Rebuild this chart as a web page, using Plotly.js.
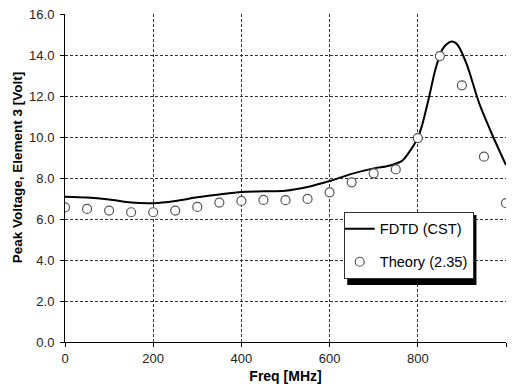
<!DOCTYPE html>
<html>
<head>
<meta charset="utf-8">
<script src="https://cdn.plot.ly/plotly-3.0.1.min.js"></script>
<style>html,body{margin:0;padding:0;background:#fff;}#chart{width:519px;height:390px;}</style>
</head>
<body>
<div id="chart"></div>
<script>
const fdtdFreq = [0,50,100,150,200,250,300,350,400,450,500,550,600,650,700,735,765,780,800,810,825,840,855,870,880,890,910,940,970,1000];
const fdtdVolt = [7.09,7.05,6.95,6.8,6.77,6.88,7.06,7.2,7.32,7.35,7.38,7.56,7.85,8.2,8.47,8.6,8.85,9.25,9.96,10.6,11.9,13.3,14.25,14.6,14.65,14.5,13.6,11.6,10.05,8.63];
const theoryFreq = [0,50,100,150,200,250,300,350,400,450,500,550,600,650,700,750,800,850,900,950,1000];
const theoryVolt = [6.57,6.49,6.41,6.33,6.33,6.41,6.59,6.8,6.88,6.93,6.92,6.98,7.3,7.79,8.23,8.42,9.95,13.95,12.52,9.04,6.77];
const yTicks = [0,2,4,6,8,10,12,14,16];
const xTicks = [0,200,400,600,800,1000];

const traces = [
  {x: fdtdFreq, y: fdtdVolt, type:'scatter', mode:'lines', name:'FDTD (CST)',
   line:{color:'#000', width:2, shape:'spline', smoothing:0.8}, legendgroup:'a'},
  {x: theoryFreq, y: theoryVolt, type:'scatter', mode:'markers', name:'Theory (2.35)',
   marker:{symbol:'circle', size:9, color:'#fff', line:{color:'#555', width:1.2}}, legendgroup:'b'}
];

const gridStyle = {showgrid:true, gridcolor:'#333', griddash:'3px,2px', gridwidth:1};
const layout = {
  width:519, height:390,
  margin:{l:65, r:13, t:14, b:48},
  paper_bgcolor:'#fff', plot_bgcolor:'#fff',
  font:{family:'Arial, Liberation Sans, sans-serif', color:'#000', size:12},
  showlegend:true,
  legend:{x:0.632, y:0.397, xanchor:'left', yanchor:'top', bgcolor:'#fff',
    bordercolor:'#333', borderwidth:1, font:{size:14.6, color:'#000'}, tracegroupgap:11,
    itemwidth:30, indentation:-5},
  xaxis:Object.assign({range:[0,1000], tickvals:xTicks, ticktext:xTicks.map(String),
    showline:true, linecolor:'#000', linewidth:1, ticks:'outside', ticklen:4, tickcolor:'#000',
    zeroline:false, tickfont:{size:13, color:'#222'},
    title:{text:'<b>Freq [MHz]</b>', font:{size:14}, standoff:6}}, gridStyle),
  yaxis:Object.assign({range:[0,16], tickvals:yTicks, ticktext:yTicks.map(v=>v.toFixed(1)),
    showline:true, linecolor:'#000', linewidth:1, ticks:'outside', ticklen:4, tickcolor:'#000',
    zeroline:false, tickfont:{size:13, color:'#222'}, ticklabelstandoff:3}, gridStyle),
  annotations:[
    {text:'<b>Peak Voltage, Element 3 [Volt]</b>', textangle:-90, xref:'paper', yref:'paper',
     x:-0.108, y:0.534, xanchor:'center', yanchor:'middle', showarrow:false, font:{size:13.5, color:'#000'}}
  ],
  shapes:[
    {type:'rect', xref:'paper', yref:'paper', x0:0.640, x1:0.933, y0:0.174, y1:0.387,
     fillcolor:'#000', line:{width:0}, layer:'above'}
  ]
};
Plotly.newPlot('chart', traces, layout, {displayModeBar:false, staticPlot:true});
</script>
</body>
</html>
